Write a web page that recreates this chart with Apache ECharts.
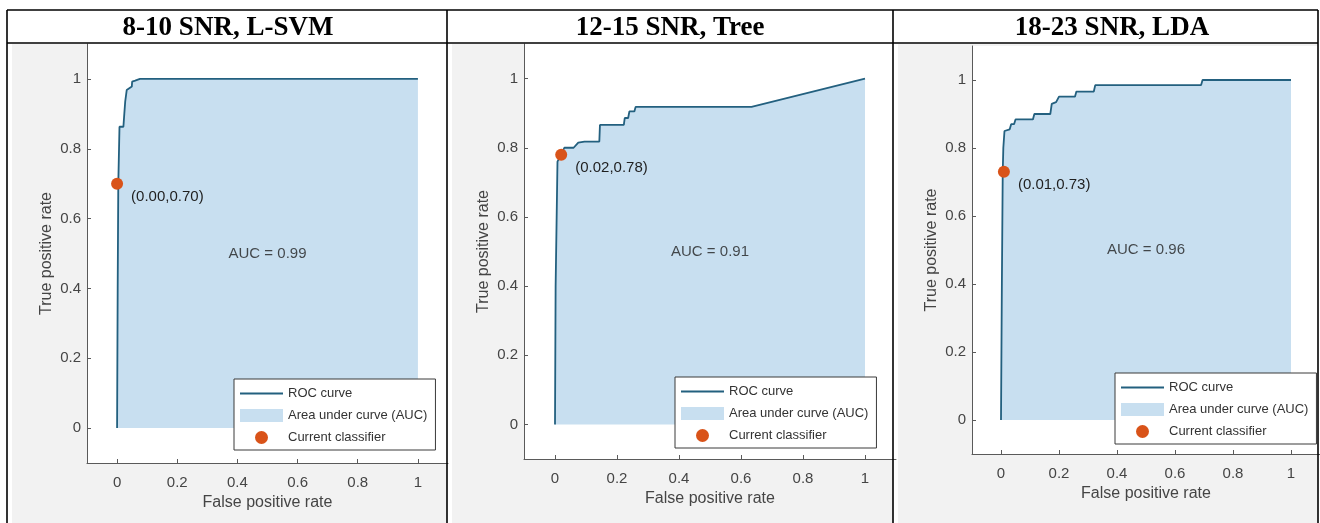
<!DOCTYPE html>
<html>
<head>
<meta charset="utf-8">
<script src="https://cdn.jsdelivr.net/npm/echarts@6/dist/echarts.min.js"></script>
<style>
html,body{margin:0;padding:0;background:#fff;}
#chart{width:1320px;height:523px;}
</style>
</head>
<body>
<div id="chart"></div>
<script>
// ---------- data ----------
const titles = ['8-10 SNR, L-SVM', '12-15 SNR, Tree', '18-23 SNR, LDA'];
const aucValues = [0.99, 0.91, 0.96];
const xTicks = [0, 0.2, 0.4, 0.6, 0.8, 1];
const yTicks = [0, 0.2, 0.4, 0.6, 0.8, 1];

const fpr1 = [0, 0.002, 0.004, 0.008, 0.021, 0.024, 0.027, 0.032, 0.038, 0.049, 0.05, 0.06, 0.076, 1];
const tpr1 = [0, 0.40, 0.70, 0.863, 0.863, 0.90, 0.935, 0.968, 0.973, 0.978, 0.992, 0.995, 1.0, 1.0];

const fpr2 = [0, 0.002, 0.008, 0.02, 0.03, 0.06, 0.075, 0.095, 0.143, 0.145, 0.222, 0.225, 0.236, 0.24, 0.256, 0.26, 0.634, 1];
const tpr2 = [0, 0.40, 0.76, 0.78, 0.80, 0.80, 0.815, 0.818, 0.818, 0.866, 0.866, 0.886, 0.886, 0.905, 0.905, 0.918, 0.918, 1.0];

const fpr3 = [0, 0.003, 0.006, 0.008, 0.012, 0.03, 0.035, 0.045, 0.05, 0.11, 0.115, 0.17, 0.175, 0.19, 0.2, 0.255, 0.26, 0.32, 0.325, 0.69, 0.695, 1];
const tpr3 = [0, 0.40, 0.73, 0.80, 0.85, 0.855, 0.87, 0.87, 0.884, 0.884, 0.90, 0.90, 0.93, 0.935, 0.951, 0.951, 0.966, 0.966, 0.985, 0.985, 1.0, 1.0];

const classifierX = [0.00, 0.02, 0.01];
const classifierY = [0.70, 0.78, 0.73];

const fprs = [fpr1, fpr2, fpr3];
const tprs = [tpr1, tpr2, tpr3];

// ---------- layout ----------
const grids = [
  {left: 87, top: 44, width: 361, height: 419},
  {left: 524, top: 44, width: 372, height: 415},
  {left: 972, top: 46, width: 357, height: 408}
];
const titleX = [228, 670, 1112];
const legendPos = [[234, 379], [675, 377], [1115, 373]];
const panelX = [[7, 447], [447, 893], [893, 1318]];

const FILL = '#c8dff0';
const LINE = '#23607f';
const MARK = '#d95319';
const TXT = '#454545';
const AX = '#5a5a5a';
const FONT = 'Liberation Sans, Arial, sans-serif';

const chart = echarts.init(document.getElementById('chart'), null, {renderer: 'canvas'});

const option = {
  animation: false,
  backgroundColor: '#ffffff',
  title: titles.map((t, i) => ({
    text: t, left: titleX[i], top: 15, textAlign: 'center', padding: 0,
    textStyle: {fontFamily: 'Liberation Serif, Times New Roman, serif', fontWeight: 'bold', fontSize: 27, color: '#000'}
  })),
  grid: grids.map(g => Object.assign({show: true, backgroundColor: '#ffffff', borderWidth: 0, containLabel: false}, g)),
  xAxis: grids.map((g, i) => ({
    type: 'value', gridIndex: i, min: -0.1, max: 1.1,
    name: 'False positive rate', nameLocation: 'middle', nameGap: 27,
    nameTextStyle: {fontFamily: FONT, fontSize: 16, color: TXT},
    axisLine: {show: true, onZero: false, lineStyle: {color: AX, width: 1}},
    axisTick: {show: true, inside: true, length: 4, customValues: xTicks, lineStyle: {color: AX}},
    axisLabel: {customValues: xTicks, margin: 12, fontFamily: FONT, fontSize: 15, color: TXT, formatter: v => String(v)},
    splitLine: {show: false}
  })),
  yAxis: grids.map((g, i) => ({
    type: 'value', gridIndex: i, min: -0.1, max: 1.1,
    name: 'True positive rate', nameLocation: 'middle', nameGap: 32,
    nameTextStyle: {fontFamily: FONT, fontSize: 16, color: TXT},
    axisLine: {show: true, onZero: false, lineStyle: {color: AX, width: 1}},
    axisTick: {show: true, inside: true, length: 4, customValues: yTicks, lineStyle: {color: AX}},
    axisLabel: {customValues: yTicks, margin: 6, fontFamily: FONT, fontSize: 15, color: TXT, formatter: v => String(v)},
    splitLine: {show: false}
  })),
  legend: legendPos.map(p => ({
    left: p[0], top: p[1], orient: 'vertical', selectedMode: false,
    itemWidth: 43, itemHeight: 13, itemGap: 9,
    padding: [8, 8, 6, 6],
    symbolKeepAspect: true,
    borderColor: '#3a3a3a', borderWidth: 1, backgroundColor: '#ffffff',
    textStyle: {fontFamily: FONT, fontSize: 13, color: '#333'},
    data: [
      {name: 'ROC curve', icon: 'path://M0,0 L43,0 L43,2 L0,2 Z', itemStyle: {color: LINE, borderWidth: 0}},
      {name: 'Area under curve (AUC)', icon: 'rect', itemStyle: {color: FILL, borderWidth: 0}},
      {name: 'Current classifier', icon: 'circle', itemStyle: {color: MARK, borderWidth: 0}}
    ]
  })),
  series: [],
  graphic: []
};

for (let i = 0; i < 3; i++) {
  const pts = fprs[i].map((x, k) => [x, tprs[i][k]]);
  option.series.push({
    type: 'line', name: 'Area under curve (AUC)', xAxisIndex: i, yAxisIndex: i,
    data: pts, symbol: 'none', color: FILL, silent: true,
    lineStyle: {width: 0, opacity: 0}, areaStyle: {color: FILL, opacity: 1}, z: 1
  });
  option.series.push({
    type: 'line', name: 'ROC curve', xAxisIndex: i, yAxisIndex: i,
    data: pts, symbol: 'none', showSymbol: false, color: LINE,
    lineStyle: {width: 1.8, color: LINE}, z: 3
  });
  option.series.push({
    type: 'scatter', name: 'AUC' + i, xAxisIndex: i, yAxisIndex: i,
    data: [[0.5, 0.5]], symbolSize: 0, itemStyle: {color: 'transparent'}, silent: true, z: 4,
    label: {show: true, position: 'inside', formatter: 'AUC = ' + aucValues[i].toFixed(2),
      fontFamily: FONT, fontSize: 15, color: '#1f1f1f'}
  });
  option.series.push({
    type: 'scatter', name: 'Current classifier', xAxisIndex: i, yAxisIndex: i,
    data: [[classifierX[i], classifierY[i]]], symbolSize: 12, color: MARK,
    itemStyle: {color: MARK, opacity: 1}, z: 5,
    label: {show: true, position: 'right', distance: 8, offset: [0, 13],
      formatter: p => '(' + p.value[0].toFixed(2) + ',' + p.value[1].toFixed(2) + ')',
      fontFamily: FONT, fontSize: 15, color: '#1f1f1f'}
  });
}

// panel backgrounds (figure gray) and table borders
panelX.forEach((px, i) => {
  option.graphic.push({type: 'rect', z: -10, silent: true,
    shape: {x: px[0] + 5, y: 44, width: px[1] - px[0] - 5, height: 480},
    style: {fill: '#f2f2f2'}});
});
const lines = [
  [7, 10, 1318, 10], [7, 43, 1318, 43], [7, 10, 7, 523], [1318, 10, 1318, 523],
  [447, 10, 447, 523], [893, 10, 893, 523]
];
lines.forEach(l => option.graphic.push({type: 'line', z: 100, silent: true,
  shape: {x1: l[0], y1: l[1], x2: l[2], y2: l[3]}, style: {stroke: '#000', lineWidth: 1.6}}));

chart.setOption(option);
</script>
</body>
</html>
